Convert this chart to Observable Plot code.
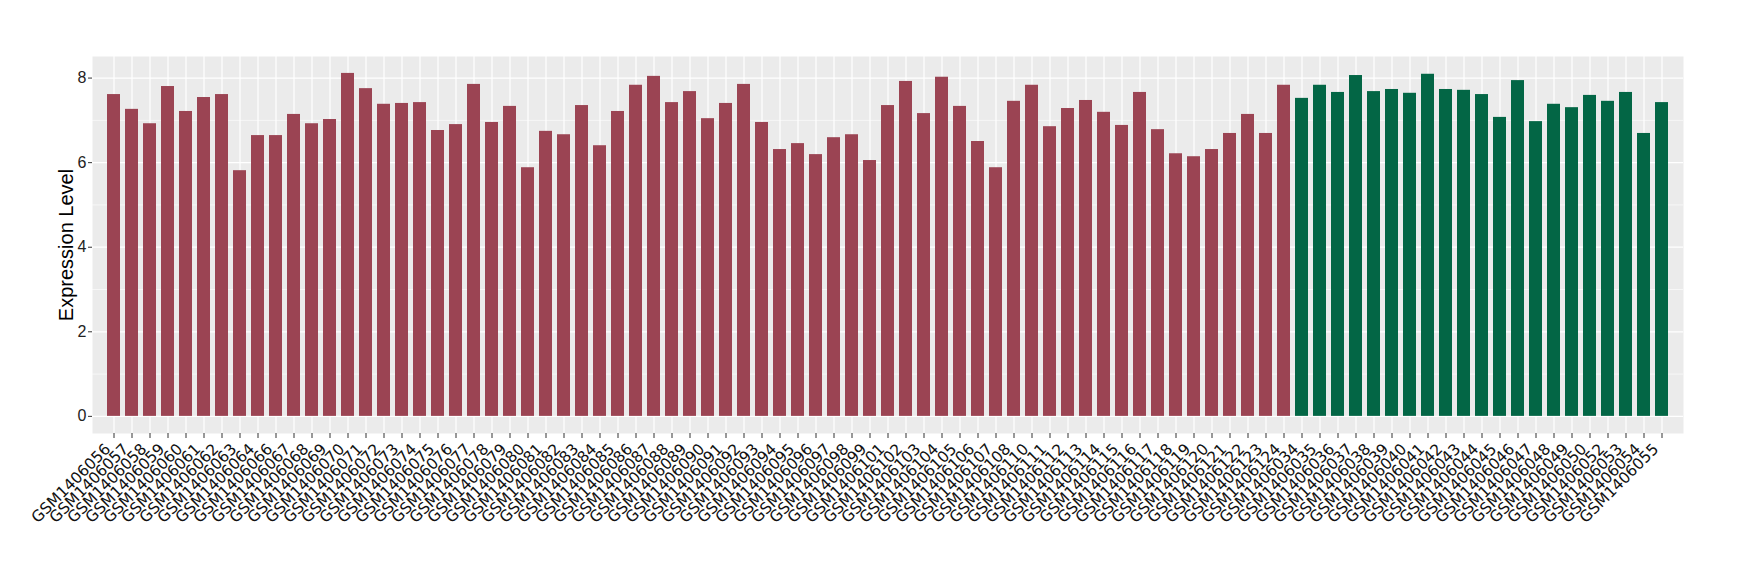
<!DOCTYPE html>
<html>
<head>
<meta charset="utf-8">
<script src="https://cdn.jsdelivr.net/npm/d3@7"></script>
<script src="https://cdn.jsdelivr.net/npm/@observablehq/plot@0.6"></script>
<style>
  html, body { margin: 0; padding: 0; background: #ffffff; }
  #chart { width: 1740px; height: 580px; }
</style>
</head>
<body>
<div id="chart"></div>
<script>
// Group 1 (maroon) samples and expression levels
const groupASamples = [
  "GSM1406056","GSM1406057","GSM1406058","GSM1406059","GSM1406060","GSM1406061","GSM1406062","GSM1406063","GSM1406064",
  "GSM1406066","GSM1406067","GSM1406068","GSM1406069","GSM1406070","GSM1406071","GSM1406072","GSM1406073","GSM1406074",
  "GSM1406075","GSM1406076","GSM1406077","GSM1406078","GSM1406079","GSM1406080","GSM1406081","GSM1406082","GSM1406083",
  "GSM1406084","GSM1406085","GSM1406086","GSM1406087","GSM1406088","GSM1406089","GSM1406090","GSM1406091","GSM1406092",
  "GSM1406093","GSM1406094","GSM1406095","GSM1406096","GSM1406097","GSM1406098","GSM1406099","GSM1406101","GSM1406102",
  "GSM1406103","GSM1406104","GSM1406105","GSM1406106","GSM1406107","GSM1406108","GSM1406110","GSM1406111","GSM1406112",
  "GSM1406113","GSM1406114","GSM1406115","GSM1406116","GSM1406117","GSM1406118","GSM1406119","GSM1406120","GSM1406121",
  "GSM1406122","GSM1406123","GSM1406124"
];
const groupAValues = [
  7.61, 7.26, 6.92, 7.80, 7.21, 7.54, 7.61, 5.81, 6.64,
  6.64, 7.14, 6.92, 7.02, 8.11, 7.75, 7.38, 7.40, 7.42,
  6.76, 6.90, 7.85, 6.95, 7.33, 5.88, 6.74, 6.66, 7.35,
  6.40, 7.21, 7.83, 8.04, 7.42, 7.68, 7.04, 7.40, 7.85,
  6.95, 6.31, 6.45, 6.19, 6.59, 6.66, 6.05, 7.35, 7.92,
  7.16, 8.02, 7.33, 6.50, 5.88, 7.45, 7.83, 6.85, 7.28,
  7.47, 7.19, 6.88, 7.66, 6.78, 6.21, 6.14, 6.31, 6.69,
  7.14, 6.69, 7.83
];
// Group 2 (green) samples and expression levels
const groupBSamples = [
  "GSM1406034","GSM1406035","GSM1406036","GSM1406037","GSM1406038","GSM1406039","GSM1406040","GSM1406041","GSM1406042",
  "GSM1406043","GSM1406044","GSM1406045","GSM1406046","GSM1406047","GSM1406048","GSM1406049","GSM1406050","GSM1406052",
  "GSM1406053","GSM1406054","GSM1406055"
];
const groupBValues = [
  7.52, 7.83, 7.66, 8.06, 7.68, 7.73, 7.64, 8.09, 7.73,
  7.71, 7.61, 7.07, 7.94, 6.97, 7.38, 7.30, 7.59, 7.45,
  7.66, 6.69, 7.42
];
const groupNames = ["A", "B"];
const groupColors = ["#9B4453", "#036645"];
const yTicks = [0, 2, 4, 6, 8];
const yMinorTicks = [1, 3, 5, 7];
const yTitle = "Expression Level";

const data = [
  ...groupASamples.map((s, i) => ({sample: s, value: groupAValues[i], group: groupNames[0]})),
  ...groupBSamples.map((s, i) => ({sample: s, value: groupBValues[i], group: groupNames[1]}))
];
const order = data.map(d => d.sample);

const chart = Plot.plot({
  width: 1740,
  height: 580,
  marginLeft: 92,
  marginRight: 57,
  marginTop: 56,
  marginBottom: 147,
  style: {background: "#ffffff", fontFamily: "Liberation Sans, Arial, sans-serif", color: "#222"},
  x: {type: "band", domain: order, paddingInner: 0.3, paddingOuter: 0.25, label: null},
  y: {domain: [-0.405, 8.51], label: null},
  color: {domain: groupNames, range: groupColors},
  marks: [
    Plot.frame({fill: "#EBEBEB", stroke: null}),
    Plot.gridY(yMinorTicks, {stroke: "#ffffff", strokeOpacity: 1, strokeWidth: 0.6}),
    Plot.gridY(yTicks, {stroke: "#ffffff", strokeOpacity: 1, strokeWidth: 1.2}),
    Plot.gridX({stroke: "#ffffff", strokeOpacity: 1, strokeWidth: 1.2}),
    Plot.barY(data, {x: "sample", y: "value", fill: "group"}),
    // axis ticks
    Plot.axisY(yTicks, {tickSize: 4, tickFormat: () => "", label: null, stroke: "#333"}),
    Plot.axisX({tickSize: 5, tickFormat: () => "", label: null, stroke: "#333"}),
    // y tick labels
    Plot.text(yTicks, {y: d => d, text: d => String(d), frameAnchor: "left", dx: -6, textAnchor: "end",
      fontSize: 16, fontFamily: "Liberation Sans", fill: "#222"}),
    // x tick labels (rotated 45°)
    Plot.text(order, {x: d => d, text: d => d, frameAnchor: "bottom", dx: -6, dy: 13, rotate: -45,
      textAnchor: "end", lineAnchor: "middle", fontSize: 15.5, fontFamily: "DejaVu Sans", fill: "#111"}),
    // y title
    Plot.text([yTitle], {frameAnchor: "left", dx: -26, rotate: -90, textAnchor: "middle", fontSize: 20,
      fontFamily: "Liberation Sans", fill: "#000"})
  ]
});
document.getElementById("chart").appendChild(chart);
</script>
</body>
</html>
